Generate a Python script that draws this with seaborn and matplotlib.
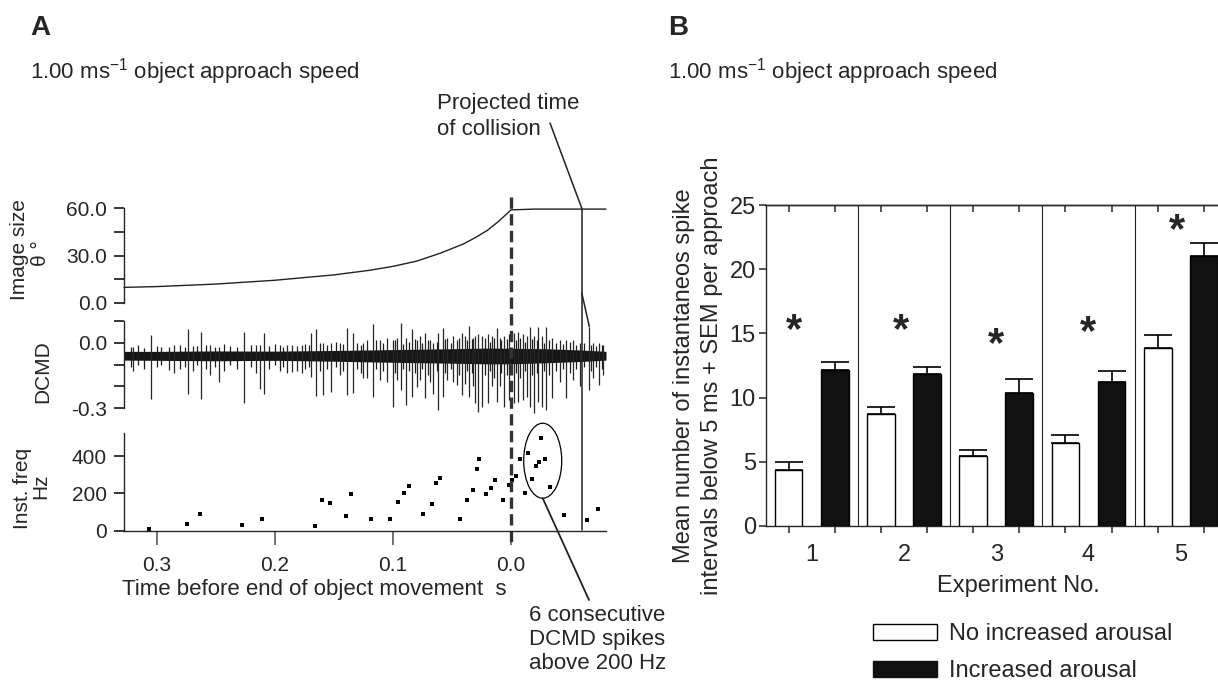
import matplotlib
matplotlib.use("Agg")
import matplotlib.pyplot as plt
import seaborn as sns
import pandas as pd
from matplotlib.patches import Ellipse, Patch, ConnectionPatch
from matplotlib.transforms import blended_transform_factory

# ---------------- panel A data
theta_time = [0.3277, 0.30, 0.25, 0.20, 0.15, 0.12, 0.10, 0.08, 0.06, 0.04,
              0.03, 0.02, 0.01, 0.0, -0.02, -0.04, -0.06, -0.0805]
theta_deg = [9.9, 10.4, 12.0, 14.4, 17.8, 20.7, 23.2, 26.5, 31.5, 37.5,
             41.5, 46.0, 52.0, 59.0, 59.5, 59.5, 59.5, 59.5]

envelope_time = [0.3277, 0.30, 0.25, 0.20, 0.15, 0.10, 0.05, 0.02, 0.0,
                 -0.03, -0.06, -0.0805]
envelope_top = [-0.040, -0.040, -0.038, -0.039, -0.036, -0.032, -0.028,
                -0.025, -0.026, -0.028, -0.034, -0.040]
envelope_bottom = [-0.080, -0.081, -0.083, -0.081, -0.085, -0.090, -0.094,
                   -0.097, -0.097, -0.092, -0.086, -0.080]

# large DCMD spikes
spike_time = [0.320, 0.305, 0.290, 0.285, 0.2735, 0.269, 0.2621, 0.255,
              0.2475, 0.2263, 0.2155, 0.2121, 0.2091, 0.190, 0.185, 0.1816,
              0.177, 0.1695, 0.1647, 0.159, 0.152, 0.145, 0.1387, 0.1336,
              0.1252, 0.122, 0.1172, 0.111, 0.1053, 0.1003, 0.0969, 0.0935,
              0.089, 0.0842, 0.0794, 0.0771, 0.0729, 0.0686, 0.0658, 0.0616,
              0.0579, 0.054, 0.0489, 0.046, 0.0418, 0.039, 0.0353, 0.0319,
              0.0305, 0.0277, 0.0248, 0.0192, 0.0164, 0.0121, 0.0093, 0.0059,
              0.0014, -0.0025, -0.0062, -0.0099, -0.0133, -0.0161, -0.0195,
              -0.0232, -0.026, -0.0297, -0.0345, -0.0415, -0.0466, -0.0528,
              -0.0585, -0.0664, -0.0697, -0.0748, -0.0782]
spike_low = [-0.13, -0.259, -0.125, -0.14, -0.234, -0.13, -0.257, -0.15,
             -0.178, -0.274, -0.14, -0.213, -0.236, -0.14, -0.135, -0.13,
             -0.14, -0.155, -0.244, -0.239, -0.224, -0.15, -0.239, -0.231,
             -0.16, -0.16, -0.25, -0.17, -0.18, -0.295, -0.17, -0.216,
             -0.285, -0.247, -0.204, -0.17, -0.254, -0.18, -0.234, -0.307,
             -0.247, -0.17, -0.18, -0.193, -0.239, -0.19, -0.247, -0.2,
             -0.277, -0.315, -0.292, -0.277, -0.2, -0.269, -0.2, -0.292,
             -0.262, -0.277, -0.269, -0.262, -0.247, -0.292, -0.323, -0.269,
             -0.292, -0.307, -0.254, -0.18, -0.254, -0.17, -0.2, -0.216,
             -0.16, -0.193, -0.15]
spike_high = [-0.02, 0.035, -0.02, -0.01, 0.061, -0.015, 0.05, -0.01,
              -0.02, 0.047, -0.01, -0.01, 0.043, -0.01, -0.01, -0.015,
              -0.01, 0.043, 0.062, 0.0, 0.0, 0.0, 0.068, 0.045,
              0.0, 0.01, 0.085, 0.01, 0.02, 0.01, 0.02, 0.088,
              0.02, 0.061, 0.01, 0.03, 0.043, 0.01, 0.0, 0.045,
              0.065, 0.02, 0.03, 0.01, 0.043, 0.03, 0.076, 0.02,
              0.03, 0.04, 0.03, 0.04, 0.03, 0.065, 0.02, 0.03,
              0.04, 0.045, 0.05, 0.04, 0.03, 0.073, 0.03, 0.07,
              0.03, 0.07, 0.02, 0.01, 0.01, 0.01, 0.0, 0.073,
              0.0, 0.0, -0.01]

# small deflections that make the ragged noise band
noise_time = [0.322, 0.316, 0.311, 0.300, 0.296, 0.280, 0.276, 0.266, 0.258,
              0.251, 0.243, 0.238, 0.232, 0.220, 0.205, 0.200, 0.196, 0.193,
              0.174, 0.171, 0.162, 0.156, 0.148, 0.142, 0.130, 0.127, 0.114,
              0.108, 0.098, 0.091, 0.086, 0.081, 0.075, 0.070, 0.063, 0.056,
              0.051, 0.044, 0.037, 0.033, 0.022, 0.018, 0.014, 0.008, 0.003,
              -0.004, -0.008, -0.012, -0.018, -0.022, -0.028, -0.032, -0.038,
              -0.044, -0.050, -0.055, -0.062, -0.068, -0.072, -0.077]
noise_low = [-0.11, -0.10, -0.12, -0.11, -0.10, -0.12, -0.11, -0.10, -0.12,
             -0.11, -0.13, -0.10, -0.12, -0.11, -0.12, -0.10, -0.13, -0.11,
             -0.12, -0.11, -0.13, -0.12, -0.11, -0.13, -0.12, -0.14, -0.12,
             -0.13, -0.14, -0.12, -0.13, -0.14, -0.12, -0.15, -0.13, -0.14,
             -0.12, -0.15, -0.13, -0.14, -0.15, -0.13, -0.16, -0.14, -0.15,
             -0.14, -0.16, -0.13, -0.15, -0.14, -0.13, -0.15, -0.13, -0.12,
             -0.14, -0.12, -0.11, -0.13, -0.11, -0.12]
noise_high = [-0.02, -0.01, -0.025, -0.015, -0.02, -0.01, -0.02, -0.015,
              -0.01, -0.02, -0.005, -0.015, -0.02, -0.01, -0.015, -0.005,
              -0.01, -0.02, -0.005, -0.01, 0.0, -0.01, 0.005, -0.005, 0.0,
              -0.01, 0.01, 0.0, 0.01, -0.005, 0.005, 0.015, 0.0, 0.01, 0.005,
              0.015, 0.0, 0.02, 0.01, 0.015, 0.02, 0.005, 0.02, 0.01, 0.015,
              0.01, 0.02, 0.005, 0.015, 0.01, 0.0, 0.01, 0.0, -0.005, 0.005,
              -0.01, 0.0, -0.01, -0.015, -0.01]

freq_time = [0.3065, 0.2743, 0.2633, 0.2277, 0.2108, 0.1658, 0.1599, 0.1531,
             0.1396, 0.1353, 0.1181, 0.1023, 0.0955, 0.0904, 0.0862, 0.0743,
             0.0667, 0.0633, 0.0599, 0.0430, 0.0370, 0.0319, 0.0286, 0.0269,
             0.0209, 0.0167, 0.0133, 0.0065, 0.0019, -0.0011, -0.0045,
             -0.0079, -0.0121, -0.0147, -0.0181, -0.0214, -0.0240, -0.0257,
             -0.0291, -0.0333, -0.0452, -0.0647, -0.0740]
freq_hz = [8, 34, 88, 29, 61, 24, 163, 147, 77, 195, 61, 61, 152, 200, 238,
           88, 141, 254, 281, 61, 163, 216, 329, 382, 195, 227, 270, 163, 243,
           270, 291, 382, 200, 415, 275, 345, 366, 495, 382, 232, 82, 56, 115]

movement_end = 0.0
collision_time = -0.060

# ---------------- panel B data
experiments = ["1", "2", "3", "4", "5"]
conditions = ["No increased arousal", "Increased arousal"]
mean_no_arousal = [4.4, 8.7, 5.45, 6.45, 13.9]
sem_no_arousal = [0.55, 0.55, 0.5, 0.65, 0.95]
mean_arousal = [12.15, 11.85, 10.35, 11.25, 21.0]
sem_arousal = [0.6, 0.5, 1.1, 0.8, 1.05]
star_offset = [-0.19, -0.03, 0.0, -0.01, -0.04]
star_level = [15.8, 15.8, 14.7, 15.6, 23.6]

sns.set_style("ticks")
plt.rcParams["font.family"] = ["Liberation Sans", "DejaVu Sans"]
plt.rcParams["mathtext.fontset"] = "custom"
plt.rcParams["mathtext.rm"] = "Liberation Sans"
plt.rcParams["axes.linewidth"] = 1.0

W, H = 1218, 680
fig = plt.figure(figsize=(W / 100, H / 100), dpi=100)


def px_rect(l, t, r, b):
    return [l / W, 1 - b / H, (r - l) / W, (b - t) / H]


def fx(x):
    return x / W


def fy(y):
    return 1 - y / H


ax1 = fig.add_axes(px_rect(124, 208.3, 606, 303))
ax2 = fig.add_axes(px_rect(124, 320.7, 606, 408.3))
ax3 = fig.add_axes(px_rect(124, 433.3, 606, 530.7))

for ax in (ax1, ax2, ax3):
    ax.set_xlim(0.3277, -0.0805)
    ax.patch.set_alpha(0)
    for s in ("top", "right"):
        ax.spines[s].set_visible(False)
    ax.tick_params(axis="y", which="both", length=7.2, width=1.1,
                   labelsize=15, pad=5, color="black")
for ax in (ax1, ax2):
    ax.spines["bottom"].set_visible(False)
    ax.set_xticks([])

# image size
sns.lineplot(x=theta_time, y=theta_deg, color="#222222", lw=1.0, ax=ax1,
             sort=False, clip_on=False)
ax1.set_ylim(0, 60)
ax1.set_yticks([0, 30, 60], ["0.0", "30.0", "60.0"])
ax1.set_yticks([15, 45], minor=True)

# DCMD trace
ax2.fill_between(envelope_time, envelope_bottom, envelope_top,
                 color="#151515", lw=0)
ax2.vlines(noise_time, noise_low, noise_high, color="#1c1c1c", lw=0.9)
ax2.vlines(spike_time, spike_low, spike_high, color="#262626", lw=0.9,
           clip_on=False)
ax2.set_ylim(-0.3, 0.1)
ax2.set_yticks([0.0, -0.3], ["0.0", "-0.3"])
ax2.set_yticks([0.1, -0.1, -0.2], minor=True)

# instantaneous frequency
sns.scatterplot(x=freq_time, y=freq_hz, marker="s", s=6, color="black",
                linewidth=0, ax=ax3, clip_on=False)
ax3.set_ylim(0, 522)
ax3.set_yticks([0, 200, 400], ["0", "200", "400"])
ax3.set_xticks([0.3, 0.2, 0.1, 0.0], ["0.3", "0.2", "0.1", "0.0"])
ax3.tick_params(axis="x", length=10, width=1.3, color="#666666",
                labelsize=15, pad=8)
ax3.add_patch(Ellipse((-0.0269, 375), width=0.0322, height=402, fill=False,
                      lw=0.9, color="black", clip_on=False))

# vertical markers across the three traces
tr = blended_transform_factory(ax3.transData, fig.transFigure)
ax3.plot([movement_end, movement_end], [fy(197), fy(546)], transform=tr,
         color="#333333", lw=2.4, ls=(0, (3.4, 1.6)), clip_on=False)
ax3.plot([collision_time, collision_time], [fy(209), fy(530)], transform=tr,
         color="#222222", lw=1.1, clip_on=False)

fig.add_artist(ConnectionPatch(xyA=(fx(550), fy(123)), coordsA="figure fraction",
                               xyB=(collision_time, 60), coordsB=ax1.transData,
                               lw=1.1, color="#222222"))
fig.add_artist(ConnectionPatch(xyA=(collision_time, 6.3), coordsA=ax1.transData,
                               xyB=(-0.0664, 0.073), coordsB=ax2.transData,
                               lw=1.1, color="#222222"))
fig.add_artist(ConnectionPatch(xyA=(-0.0269, 174), coordsA=ax3.transData,
                               xyB=(fx(589), fy(600)), coordsB="figure fraction",
                               lw=1.3, color="#222222"))

fig.text(fx(437), fy(93), "Projected time\nof collision", fontsize=16,
         va="top", ha="left", linespacing=1.3)
fig.text(fx(529), fy(605), "6 consecutive\nDCMD spikes\nabove 200 Hz",
         fontsize=16, va="top", ha="left", linespacing=1.2)

# y labels of the three traces (one text per line)
fig.text(fx(20), fy(250), "Image size", rotation=90, fontsize=15,
         ha="center", va="center")
fig.text(fx(41), fy(253), "θ °", rotation=90, fontsize=15,
         ha="center", va="center")
fig.text(fx(43), fy(372), "DCMD", rotation=90, fontsize=15,
         ha="center", va="center")
fig.text(fx(22), fy(488), "Inst. freq", rotation=90, fontsize=15,
         ha="center", va="center")
fig.text(fx(41), fy(486), "Hz", rotation=90, fontsize=15,
         ha="center", va="center")
fig.text(fx(314), fy(589), "Time before end of object movement  s",
         fontsize=16, ha="center", va="center")

# titles
fig.text(fx(30), fy(28), "A", fontsize=20, fontweight="bold", va="center")
fig.text(fx(668), fy(28), "B", fontsize=20, fontweight="bold", va="center")
fig.text(fx(30), fy(72), r"1.00 ms$^{-1}$ object approach speed",
         fontsize=16, va="center")
fig.text(fx(668), fy(72), r"1.00 ms$^{-1}$ object approach speed",
         fontsize=16, va="center")

# ---------------- panel B
ax4 = fig.add_axes(px_rect(765.5, 205, 765.5 + 5 * 92.3, 526))
df = pd.DataFrame({
    "experiment": experiments * 2,
    "condition": [conditions[0]] * 5 + [conditions[1]] * 5,
    "mean": mean_no_arousal + mean_arousal,
})
sns.barplot(data=df, x="experiment", y="mean", hue="condition",
            hue_order=conditions, order=experiments,
            palette={conditions[0]: "white", conditions[1]: "#111111"},
            edgecolor="black", linewidth=1.0, width=1.0, gap=0.4,
            errorbar=None, legend=False, ax=ax4, zorder=3)

centers = []
for cont, sems in zip(ax4.containers, [sem_no_arousal, sem_arousal]):
    for bar, s in zip(cont, sems):
        xc = bar.get_x() + bar.get_width() / 2
        centers.append(xc)
        ax4.errorbar(xc, bar.get_height(), yerr=[[0], [s]], color="black",
                     lw=1.2, capsize=10, capthick=1.2, zorder=2)

for i in range(len(experiments) - 1):
    ax4.axvline(i + 0.5, color="#222222", lw=0.8, zorder=1)

for i, (dx, lvl) in enumerate(zip(star_offset, star_level)):
    ax4.annotate("*", xy=(i + dx, lvl), xytext=(0, -13.5),
                 textcoords="offset points", ha="center", va="baseline",
                 fontsize=30, fontweight="bold", annotation_clip=False)

ax4.set_xlim(-0.5, 4.5)
ax4.set_ylim(0, 25)
ax4.set_yticks(range(0, 26, 5))
ax4.set_xticks(range(len(experiments)), experiments)
ax4.set_xticks(sorted(centers), minor=True)
ax4.set_xlabel("")
ax4.set_ylabel("")
ax4.spines["right"].set_visible(False)
ax4.tick_params(axis="y", length=5, width=1.1, labelsize=17, pad=2)
ax4.tick_params(axis="x", which="major", length=0, labelsize=17, pad=13)
ax4.tick_params(axis="x", which="minor", length=5, width=1.1)
top = ax4.secondary_xaxis("top")
top.set_xticks(sorted(centers))
top.tick_params(direction="in", length=5, width=1.1, labeltop=False)

fig.text(fx(698), fy(376),
         "Mean number of instantaneos spike\nintervals below 5 ms + SEM per approach",
         rotation=90, fontsize=17, ha="center", va="center",
         multialignment="center", linespacing=1.3)
fig.text(fx(1018), fy(586), "Experiment No.", fontsize=17, ha="center",
         va="center")

handles = [Patch(facecolor="white", edgecolor="black", lw=1.0),
           Patch(facecolor="#111111", edgecolor="#111111", lw=1.0)]
fig.legend(handles, conditions, loc="upper left",
           bbox_to_anchor=(fx(873), fy(623)), frameon=False, fontsize=17,
           handlelength=2.7, handleheight=0.68, handletextpad=0.5,
           labelspacing=0.65, borderpad=0, borderaxespad=0)

fig.savefig("out.png", dpi=100)
